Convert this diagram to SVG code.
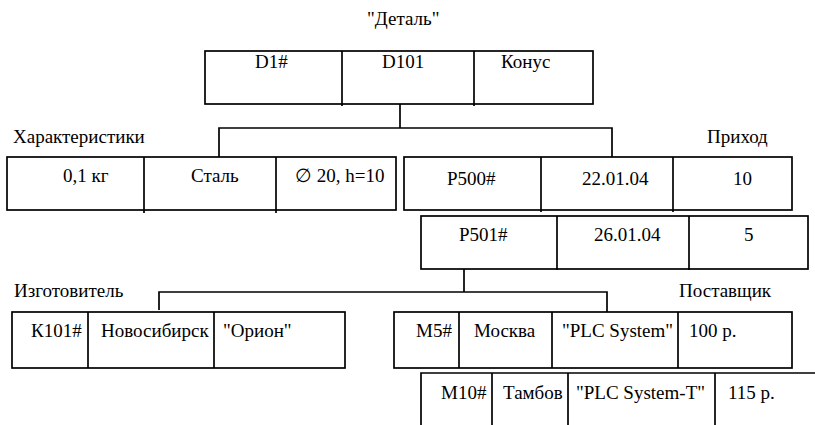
<svg xmlns="http://www.w3.org/2000/svg" width="815" height="425" viewBox="0 0 815 425">
  <style>
    .box { fill: none; stroke: #000; stroke-width: 1.7; }
    .ln { stroke: #000; stroke-width: 1.7; fill: none; }
    .t { font-family: 'Liberation Serif', 'Times New Roman', 'DejaVu Serif', serif; font-size: 19px; fill: #000; }
  </style>
  <rect width="815" height="425" fill="#fff"/>

  <!-- connectors -->
  <g id="connectors">
    <polyline class="ln" points="400,104 400,128"/>
    <polyline class="ln" points="219,157 219,128 612,128 612,157"/>
    <polyline class="ln" points="464,269 464,292"/>
    <polyline class="ln" points="159,310 159,292 607,292 607,312"/>
  </g>

  <g class="t">
    <!-- Деталь -->
    <g id="detal">
      <text x="367" y="25">"Деталь"</text>
      <rect class="box" x="205" y="51" width="388" height="53"/>
      <line class="ln" x1="342" y1="51" x2="342" y2="106"/>
      <line class="ln" x1="474" y1="51" x2="474" y2="106"/>
      <text x="255" y="68">D1#</text>
      <text x="382" y="68">D101</text>
      <text x="501" y="68">Конус</text>
    </g>

    <!-- Характеристики -->
    <g id="harakteristiki">
      <text x="13" y="143">Характеристики</text>
      <rect class="box" x="7" y="157" width="389" height="53"/>
      <line class="ln" x1="144" y1="157" x2="144" y2="213"/>
      <line class="ln" x1="276" y1="157" x2="276" y2="213"/>
      <text x="63" y="182">0,1 кг</text>
      <text x="191" y="182">Сталь</text>
      <text x="295" y="182">∅ 20, h=10</text>
    </g>

    <!-- Приход -->
    <g id="prihod">
      <text x="707" y="143">Приход</text>
      <rect class="box" x="404" y="157" width="388" height="53"/>
      <line class="ln" x1="541" y1="157" x2="541" y2="212"/>
      <line class="ln" x1="673" y1="157" x2="673" y2="212"/>
      <text x="447" y="185">P500#</text>
      <text x="582" y="185">22.01.04</text>
      <text x="733" y="185">10</text>
    </g>
    <g id="prihod-2">
      <rect class="box" x="421" y="216" width="387" height="53"/>
      <line class="ln" x1="557" y1="216" x2="557" y2="270"/>
      <line class="ln" x1="689" y1="216" x2="689" y2="270"/>
      <text x="459" y="241">P501#</text>
      <text x="594" y="241">26.01.04</text>
      <text x="744" y="241">5</text>
    </g>

    <!-- Изготовитель -->
    <g id="izgotovitel">
      <text x="14" y="297">Изготовитель</text>
      <rect class="box" x="12" y="312" width="333" height="56"/>
      <line class="ln" x1="88" y1="312" x2="88" y2="368"/>
      <line class="ln" x1="214" y1="312" x2="214" y2="368"/>
      <text x="31" y="337">К101#</text>
      <text x="101" y="337">Новосибирск</text>
      <text x="223" y="337">"Орион"</text>
    </g>

    <!-- Поставщик -->
    <g id="postavshik">
      <text x="679" y="297">Поставщик</text>
      <rect class="box" x="394" y="312" width="398" height="56"/>
      <line class="ln" x1="459" y1="312" x2="459" y2="368"/>
      <line class="ln" x1="552" y1="312" x2="552" y2="368"/>
      <line class="ln" x1="678" y1="312" x2="678" y2="368"/>
      <text x="416" y="337">М5#</text>
      <text x="474" y="337">Москва</text>
      <text x="562" y="337">"PLC System"</text>
      <text x="689" y="337">100 р.</text>
    </g>
    <g id="postavshik-2">
      <polyline class="ln" points="421,425 421,373 815,373"/>
      <line class="ln" x1="492" y1="373" x2="492" y2="425"/>
      <line class="ln" x1="568" y1="373" x2="568" y2="425"/>
      <line class="ln" x1="715" y1="373" x2="715" y2="425"/>
      <text x="441" y="399">М10#</text>
      <text x="503" y="399">Тамбов</text>
      <text x="576" y="399">"PLC System-T"</text>
      <text x="728" y="399">115 р.</text>
    </g>
  </g>
</svg>
